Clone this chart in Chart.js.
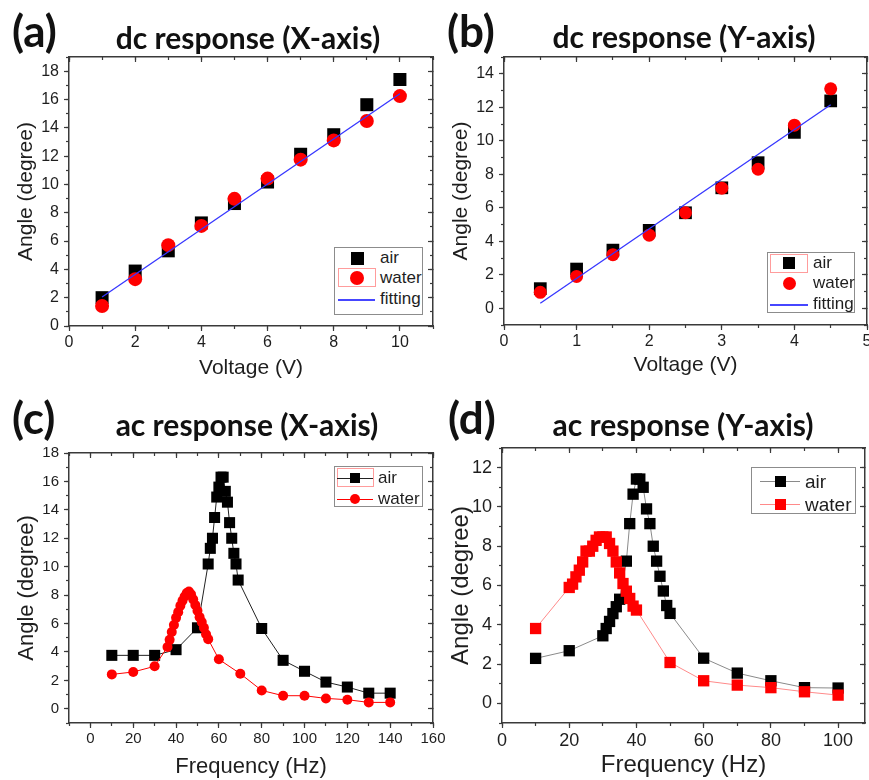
<!DOCTYPE html>
<html>
<head>
<meta charset="utf-8">
<title>dc / ac response</title>
<script src="https://cdn.jsdelivr.net/npm/chart.js@4.4.1/dist/chart.umd.min.js"></script>
<style>
  html, body { margin: 0; padding: 0; background: #fff; }
  body { position: relative; width: 869px; height: 780px; overflow: hidden; font-family: "Liberation Sans", Arial, sans-serif; color: #1e1e1e; }
  canvas { position: absolute; }
  .tag { position: absolute; font: bold 44px Lato, sans-serif; line-height: 44px; white-space: nowrap; color: #111; }
  .ttl { position: absolute; font: bold 30px Lato, sans-serif; line-height: 30px; white-space: nowrap; transform: translateX(-50%); color: #111; }
  .leg { position: absolute; border: 1px solid #8c8c8c; background: #fff; box-sizing: border-box; }
  .leg div { position: absolute; white-space: nowrap; }
</style>
</head>
<body>
<canvas id="cA" width="460" height="390" style="left:0;top:0"></canvas>
<canvas id="cB" width="460" height="390" style="left:435px;top:0"></canvas>
<canvas id="cC" width="460" height="390" style="left:0;top:390px"></canvas>
<canvas id="cD" width="460" height="390" style="left:435px;top:390px"></canvas>

<div class="tag" style="left:12px;top:8px">(a)</div>
<div class="tag" style="left:447px;top:8px">(b)</div>
<div class="tag" style="left:12px;top:395px">(c)</div>
<div class="tag" style="left:448px;top:395px">(d)</div>
<div class="ttl" style="left:248px;top:22px">dc response (X-axis)</div>
<div class="ttl" style="left:684px;top:21px">dc response (Y-axis)</div>
<div class="ttl" style="left:247px;top:409px">ac response (X-axis)</div>
<div class="ttl" style="left:683px;top:409px">ac response (Y-axis)</div>

<script>
// ---- data ----

// (a) dc response, X-axis
const voltA = [1, 2, 3, 4, 5, 6, 7, 8, 9, 10];
const airA = [2.0, 3.88, 5.31, 7.28, 8.65, 10.17, 12.13, 13.51, 15.63, 17.41];
const waterA = [1.41, 3.31, 5.71, 7.07, 8.98, 10.41, 11.75, 13.11, 14.48, 16.24];
const fitVoltA = [1, 10];
const fitA = [2.05, 16.4];
const xTicksA = [0, 2, 4, 6, 8, 10];
const yTicksA = [0, 2, 4, 6, 8, 10, 12, 14, 16, 18];

// (b) dc response, Y-axis
const voltB = [0.5, 1, 1.5, 2, 2.5, 3, 3.5, 4, 4.5];
const airB = [1.17, 2.34, 3.47, 4.65, 5.7, 7.19, 8.69, 10.5, 12.38];
const waterB = [0.95, 1.9, 3.2, 4.36, 5.7, 7.17, 8.3, 10.93, 13.1];
const fitVoltB = [0.5, 4.5];
const fitB = [0.3, 12.15];
const xTicksB = [0, 1, 2, 3, 4, 5];
const yTicksB = [0, 2, 4, 6, 8, 10, 12, 14];

// (c) ac response, X-axis
const freqAirC = [10, 20, 30, 40, 50, 55, 56, 57, 58, 59, 60, 61, 62, 63, 64, 65, 66, 67, 68, 69, 80, 90, 100, 110, 120, 130, 140];
const airC = [3.76, 3.76, 3.76, 4.16, 5.7, 10.19, 11.29, 12.0, 13.46, 14.9, 15.6, 16.3, 16.3, 15.3, 14.54, 13.1, 12.0, 10.94, 10.19, 9.06, 5.65, 3.41, 2.64, 1.88, 1.53, 1.1, 1.1];
const freqWaterC = [10, 20, 30, 36, 37, 38, 39, 40, 41, 42, 43, 44, 45, 46, 47, 48, 49, 50, 51, 52, 53, 54, 55, 60, 70, 80, 90, 100, 110, 120, 130, 140];
const waterC = [2.42, 2.59, 2.99, 4.35, 4.85, 5.4, 5.9, 6.4, 6.8, 7.25, 7.6, 7.9, 8.15, 8.25, 8.05, 7.7, 7.3, 6.9, 6.45, 6.1, 5.7, 5.25, 4.9, 3.48, 2.47, 1.29, 0.92, 0.92, 0.73, 0.64, 0.45, 0.45];
const xTicksC = [0, 20, 40, 60, 80, 100, 120, 140, 160];
const yTicksC = [0, 2, 4, 6, 8, 10, 12, 14, 16, 18];

// (d) ac response, Y-axis
const freqAirD = [10, 20, 30, 31, 32, 33, 34, 35, 37, 38, 39, 40, 41, 42, 43, 44, 45, 46, 47, 48, 49, 50, 60, 70, 80, 90, 100];
const airD = [2.29, 2.68, 3.44, 3.81, 4.17, 4.57, 4.92, 5.3, 7.24, 9.15, 10.65, 11.42, 11.42, 11.0, 9.9, 9.15, 8.0, 7.24, 6.47, 5.72, 4.98, 4.58, 2.3, 1.54, 1.15, 0.8, 0.78];
const freqWaterD = [10, 20, 21, 22, 23, 24, 25, 26, 27, 28, 29, 30, 31, 32, 33, 34, 35, 36, 37, 38, 39, 40, 50, 60, 70, 80, 90, 100];
const waterD = [3.81, 5.9, 6.07, 6.44, 6.78, 7.2, 7.75, 7.75, 8.0, 8.3, 8.47, 8.47, 8.47, 8.14, 7.75, 7.2, 6.64, 6.1, 5.71, 5.34, 4.95, 4.75, 2.08, 1.15, 0.93, 0.8, 0.59, 0.42];
const xTicksD = [0, 20, 40, 60, 80, 100];
const yTicksD = [0, 2, 4, 6, 8, 10, 12];

// ---- helpers ----
const ink = '#1e1e1e';
const axisInk = '#3a3a3a';
const red = '#ff0000';
const blue = '#3636ff';

const pts = (xs, ys) => xs.map((x, i) => ({ x: x, y: ys[i] }));

function range(a, b, s) {
  const out = [];
  for (let v = a; v <= b + 1e-9; v += s) out.push(+v.toFixed(4));
  return out;
}

// builds the boxed Origin-style frame: labelled bottom/left axes with
// outward ticks, plain top/right axes with inward ticks, minor ticks too
function frameScales(p) {
  const H = 390;
  const setTicks = vals => s => { s.ticks = vals.map(v => ({ value: v })); };
  const tickFont = { family: 'Liberation Sans', size: p.tickSize };
  const titleFont = { family: 'Liberation Sans', size: p.titleSize };
  const plain = (axis, pos, vals, len, extra) => Object.assign({
    type: 'linear', axis: axis, position: pos,
    min: axis === 'x' ? p.x.min : p.y.min,
    max: axis === 'x' ? p.x.max : p.y.max,
    afterBuildTicks: setTicks(vals),
    ticks: { display: false },
    grid: { drawOnChartArea: false, tickLength: len, tickColor: axisInk, tickWidth: 1.2 },
    border: { display: false },
    afterFit: (axis === 'x') ? (s => { s.height = 0; }) : (s => { s.width = 0; })
  }, extra);
  const xMinor = range(p.x.min, p.x.max, p.x.minor);
  const yMinor = range(p.y.min, p.y.max, p.y.minor);
  return {
    x: plain('x', 'bottom', p.x.ticks, 5, {
      weight: 10,
      ticks: { display: true, autoSkip: false, maxRotation: 0, color: ink, font: tickFont, padding: 2, callback: v => String(v) },
      border: { display: true, color: axisInk, width: 1.5 },
      title: { display: true, text: p.x.title, color: ink, font: titleFont, padding: { top: 0, bottom: p.x.titlePad } },
      afterFit: s => { s.height = H - p.area.b; }
    }),
    y: plain('y', 'left', p.y.ticks, 5, {
      weight: 10,
      ticks: { display: true, autoSkip: false, color: ink, font: tickFont, padding: 5, callback: v => String(v) },
      border: { display: true, color: axisInk, width: 1.5 },
      title: { display: true, text: p.y.title, color: ink, font: titleFont, padding: { top: p.y.titlePad, bottom: 0 } },
      afterFit: s => { s.width = p.area.l; }
    }),
    xMinor: plain('x', 'bottom', xMinor, 3, { weight: 0 }),
    yMinor: plain('y', 'left', yMinor, 3, { weight: 0 }),
    xTop: plain('x', 'top', p.x.ticks, -5, { border: { display: true, color: axisInk, width: 1.5 } }),
    xTopMinor: plain('x', 'top', xMinor, -3, {}),
    yRight: plain('y', 'right', p.y.ticks, -5, { border: { display: true, color: axisInk, width: 1.5 } }),
    yRightMinor: plain('y', 'right', yMinor, -3, {})
  };
}

function draw(id, p, datasets) {
  datasets.forEach(d => { d.xAxisID = 'x'; d.yAxisID = 'y'; });
  return new Chart(document.getElementById(id), {
    type: 'scatter',
    data: { datasets: datasets },
    options: {
      responsive: false,
      animation: false,
      devicePixelRatio: 1,
      events: [],
      layout: { padding: { left: 0, top: p.area.t, right: 460 - p.area.r, bottom: 0 } },
      plugins: { legend: { display: false }, tooltip: { enabled: false } },
      scales: frameScales(p)
    }
  });
}

// ---- the four panels ----
draw('cA', {
  area: { l: 69, t: 57, r: 433, b: 326 }, tickSize: 16, titleSize: 21,
  x: { min: 0, max: 11, ticks: xTicksA, minor: 1, title: 'Voltage (V)', titlePad: 9 },
  y: { min: 0, max: 19, ticks: yTicksA, minor: 1, title: 'Angle (degree)', titlePad: 14 }
}, [
  { label: 'fitting', data: pts(fitVoltA, fitA), showLine: true, borderColor: blue, borderWidth: 1.3, pointRadius: 0, order: 0 },
  { label: 'water', data: pts(voltA, waterA), pointStyle: 'circle', pointRadius: 7, pointBackgroundColor: red, pointBorderWidth: 0, order: 1 },
  { label: 'air', data: pts(voltA, airA), pointStyle: 'rect', pointRadius: 9.2, pointBackgroundColor: '#000', pointBorderWidth: 0, order: 2 }
]);

draw('cB', {
  area: { l: 69, t: 57, r: 432, b: 325 }, tickSize: 16, titleSize: 21,
  x: { min: 0, max: 5, ticks: xTicksB, minor: 0.5, title: 'Voltage (V)', titlePad: 12 },
  y: { min: -1, max: 15, ticks: yTicksB, minor: 1, title: 'Angle (degree)', titlePad: 14 }
}, [
  { label: 'fitting', data: pts(fitVoltB, fitB), showLine: true, borderColor: blue, borderWidth: 1.3, pointRadius: 0, order: 0 },
  { label: 'water', data: pts(voltB, waterB), pointStyle: 'circle', pointRadius: 6.5, pointBackgroundColor: red, pointBorderWidth: 0, order: 1 },
  { label: 'air', data: pts(voltB, airB), pointStyle: 'rect', pointRadius: 9, pointBackgroundColor: '#000', pointBorderWidth: 0, order: 2 }
]);

draw('cC', {
  area: { l: 69, t: 63, r: 433, b: 333 }, tickSize: 15, titleSize: 22,
  x: { min: -10, max: 160, ticks: xTicksC, minor: 10, title: 'Frequency (Hz)', titlePad: 0 },
  y: { min: -1, max: 18, ticks: yTicksC, minor: 1, title: 'Angle (degree)', titlePad: 14 }
}, [
  { label: 'water', data: pts(freqWaterC, waterC), showLine: true, borderColor: red, borderWidth: 1, pointStyle: 'circle', pointRadius: 5, pointBackgroundColor: red, pointBorderWidth: 0, order: 0 },
  { label: 'air', data: pts(freqAirC, airC), showLine: true, borderColor: '#222', borderWidth: 1, pointStyle: 'rect', pointRadius: 7.8, pointBackgroundColor: '#000', pointBorderWidth: 0, order: 1 }
]);

draw('cD', {
  area: { l: 67, t: 58, r: 430, b: 333 }, tickSize: 18, titleSize: 24,
  x: { min: 0, max: 108, ticks: xTicksD, minor: 10, title: 'Frequency (Hz)', titlePad: 0 },
  y: { min: -1, max: 13, ticks: yTicksD, minor: 1, title: 'Angle (degree)', titlePad: 12 }
}, [
  { label: 'water', data: pts(freqWaterD, waterD), showLine: true, borderColor: '#ff8a8a', borderWidth: 1, pointStyle: 'rect', pointRadius: 8, pointBackgroundColor: red, pointBorderWidth: 0, order: 0 },
  { label: 'air', data: pts(freqAirD, airD), showLine: true, borderColor: '#8a8a8a', borderWidth: 1, pointStyle: 'rect', pointRadius: 8, pointBackgroundColor: '#000', pointBorderWidth: 0, order: 1 }
]);

// ---- legends (Origin style boxes) ----
function put(parent, st) {
  const el = document.createElement('div');
  Object.keys(st).forEach(k => { el.style[k] = (typeof st[k] === 'number') ? Math.round(st[k]) + 'px' : st[k]; });
  parent.appendChild(el);
  return el;
}

function legend(L) {
  const box = put(document.body, { left: L.x, top: L.y, width: L.w, height: L.h });
  box.className = 'leg';
  L.rows.forEach(r => {
    if (r.hl) put(box, { left: r.hl[0], top: r.hl[1], width: r.hl[2], height: r.hl[3], border: '1px solid #ff9c9c', boxSizing: 'border-box' });
    if (r.line) put(box, { left: L.line[0], top: r.cy, width: L.line[1] - L.line[0], height: r.lw || 1, background: r.line });
    if (r.shape) put(box, { left: L.mx - r.size / 2, top: r.cy - r.size / 2, width: r.size, height: r.size, background: r.color, borderRadius: r.shape === 'circle' ? '50%' : '0' });
    const t = put(box, { left: L.tx, top: r.cy - L.font * 0.6, fontSize: L.font, lineHeight: Math.round(L.font * 1.2) + 'px', color: ink });
    t.textContent = r.text;
  });
}

legend({ x: 334, y: 247, w: 89, h: 68, mx: 22, tx: 45, font: 17, line: [3, 40], rows: [
  { text: 'air', cy: 10, shape: 'rect', size: 13, color: '#000' },
  { text: 'water', cy: 30, shape: 'circle', size: 14, color: red, hl: [3, 20, 38, 19] },
  { text: 'fitting', cy: 51, line: '#4646ff', lw: 2 }
]});

legend({ x: 767, y: 252, w: 88, h: 61, mx: 21, tx: 45, font: 17, line: [2, 40], rows: [
  { text: 'air', cy: 10, shape: 'rect', size: 12, color: '#000', hl: [2, 1, 38, 19] },
  { text: 'water', cy: 30, shape: 'circle', size: 13, color: red },
  { text: 'fitting', cy: 51, line: '#4646ff', lw: 2 }
]});

legend({ x: 334, y: 466, w: 89, h: 41, mx: 20, tx: 43, font: 17, line: [2, 38], rows: [
  { text: 'air', cy: 11, shape: 'rect', size: 10, color: '#000', line: '#222', hl: [2, 1, 37, 19] },
  { text: 'water', cy: 32, shape: 'circle', size: 10, color: red, line: red }
]});

legend({ x: 751, y: 467, w: 105, h: 47, mx: 28, tx: 53, font: 19, line: [8, 48], rows: [
  { text: 'air', cy: 13, shape: 'rect', size: 11, color: '#000', line: '#8a8a8a' },
  { text: 'water', cy: 36, shape: 'rect', size: 11, color: red, line: '#ff8a8a' }
]});
</script>
</body>
</html>
